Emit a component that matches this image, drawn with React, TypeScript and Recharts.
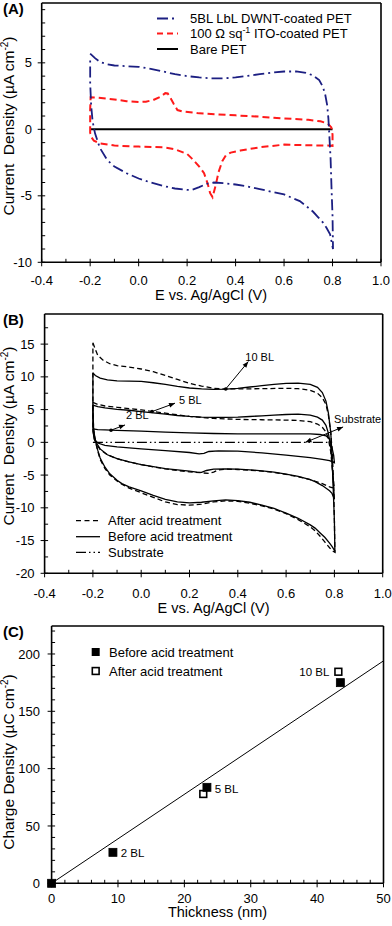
import React from 'react';
import { ComposedChart, Line, Scatter, XAxis, YAxis, ReferenceLine, ReferenceDot } from 'recharts';

const FONT = 'Arial, "Liberation Sans", Helvetica, sans-serif';

// ---------------- shared CV axis ticks ----------------
const cvXMajor = [-0.4, -0.2, 0, 0.2, 0.4, 0.6, 0.8, 1.0];
const cvXAll = [-0.4, -0.3, -0.2, -0.1, 0, 0.1, 0.2, 0.3, 0.4, 0.5, 0.6, 0.7, 0.8, 0.9, 1.0];

// ---------------- Panel A ----------------
const aYMajor = [-10, -5, 0, 5];
const aYAll = [-10, -9, -8, -7, -6, -5, -4, -3, -2, -1, 0, 1, 2, 3, 4, 5, 6, 7, 8, 9];
const aYMax = 9.5;

const dwntA: [number, number][] = [
  [-0.2, 5.7], [-0.18, 5.35], [-0.16, 5.07], [-0.13, 4.9], [-0.1, 4.8], [-0.05, 4.75], [0.0, 4.7],
  [0.05, 4.55], [0.1, 4.35], [0.15, 4.15], [0.2, 4.0], [0.25, 3.9], [0.3, 3.83], [0.35, 3.83], [0.4, 3.9],
  [0.45, 4.02], [0.5, 4.15], [0.55, 4.27], [0.6, 4.35], [0.65, 4.35], [0.69, 4.25], [0.72, 4.05],
  [0.745, 3.7], [0.76, 3.2], [0.77, 2.6], [0.778, 1.8], [0.783, 0.8], [0.787, -0.5], [0.792, -2.2],
  [0.796, -4.5], [0.8, -6.5], [0.802, -9.0],
  [0.79, -7.9], [0.775, -7.4], [0.76, -7.0], [0.74, -6.6], [0.72, -6.2], [0.7, -5.9], [0.665, -5.4],
  [0.6, -4.9], [0.55, -4.7], [0.5, -4.5], [0.45, -4.3], [0.4, -4.15], [0.35, -4.05], [0.31, -4.0],
  [0.28, -4.1], [0.25, -4.35], [0.22, -4.55], [0.2, -4.55], [0.15, -4.45], [0.1, -4.25], [0.05, -4.0],
  [0.0, -3.7], [-0.05, -3.3], [-0.1, -2.8], [-0.13, -2.3], [-0.16, -1.4], [-0.18, -0.3], [-0.19, 0.6],
  [-0.196, 1.8], [-0.2, 3.5], [-0.2, 5.2],
];

const itoA: [number, number][] = [
  [-0.2, -0.3], [-0.2, 1.5], [-0.198, 2.4], [-0.17, 2.38], [-0.1, 2.24], [-0.05, 2.12], [0.0, 2.06],
  [0.03, 2.08], [0.06, 2.2], [0.09, 2.45], [0.11, 2.72], [0.12, 2.7], [0.13, 2.4], [0.145, 1.9],
  [0.16, 1.45], [0.18, 1.35], [0.25, 1.2], [0.4, 1.05], [0.5, 0.95], [0.6, 0.82], [0.7, 0.72],
  [0.75, 0.6], [0.78, 0.45], [0.795, 0.15], [0.8, -0.4], [0.8, -1.25],
  [0.78, -1.22], [0.7, -1.2], [0.6, -1.15], [0.5, -1.35], [0.42, -1.6], [0.38, -1.75], [0.36, -1.95],
  [0.345, -2.4], [0.33, -3.2], [0.318, -4.2], [0.305, -5.1], [0.295, -4.8], [0.285, -4.1],
  [0.27, -3.3], [0.25, -2.8], [0.22, -2.2], [0.2, -1.85], [0.15, -1.5], [0.1, -1.35], [0.0, -1.3],
  [-0.1, -1.22], [-0.16, -1.05], [-0.185, -0.85], [-0.195, -0.6], [-0.2, -0.3],
];

const bareA: [number, number][] = [[-0.2, 0], [0.8, 0]];

// ---------------- Panel B ----------------
const bYMajor = [-20, -15, -10, -5, 0, 5, 10, 15];
const bYAll = [-20, -17.5, -15, -12.5, -10, -7.5, -5, -2.5, 0, 2.5, 5, 7.5, 10, 12.5, 15, 17.5];
const bYMax = 19.6;

const after10: [number, number][] = [
  [-0.2, 15.2], [-0.19, 14.2], [-0.18, 13.3], [-0.16, 12.6], [-0.13, 12.0], [-0.1, 11.7], [-0.05, 11.5],
  [0.0, 11.2], [0.05, 10.8], [0.1, 10.2], [0.15, 9.6], [0.2, 9.0], [0.25, 8.6], [0.3, 8.25], [0.35, 8.15],
  [0.4, 8.15], [0.5, 8.2], [0.6, 8.25], [0.65, 8.2], [0.7, 7.95], [0.73, 7.5], [0.75, 6.8], [0.765, 5.8],
  [0.775, 4.2], [0.785, 1.5], [0.792, -2], [0.797, -7], [0.8, -12], [0.802, -16.8],
  [0.79, -16.5], [0.78, -16.1], [0.76, -15.2], [0.74, -14.3], [0.72, -13.5], [0.7, -12.9], [0.65, -11.8],
  [0.6, -10.9], [0.55, -10.2], [0.5, -9.7], [0.45, -9.3], [0.4, -9.0], [0.35, -8.95], [0.3, -9.1],
  [0.25, -9.45], [0.2, -9.6], [0.15, -9.5], [0.1, -9.1], [0.05, -8.4], [0.0, -7.7], [-0.05, -7.0],
  [-0.08, -6.4], [-0.1, -5.9], [-0.13, -5.0], [-0.15, -4.0], [-0.17, -2.6], [-0.18, -1.3], [-0.19, 0.2],
  [-0.197, 2.0], [-0.2, 5], [-0.2, 15.2],
];

const before10: [number, number][] = [
  [-0.2, 10.6], [-0.19, 10.2], [-0.17, 9.8], [-0.14, 9.55], [-0.1, 9.4], [-0.05, 9.35], [0.0, 9.3],
  [0.05, 9.1], [0.1, 8.85], [0.15, 8.55], [0.2, 8.3], [0.25, 8.15], [0.3, 8.1], [0.35, 8.12], [0.4, 8.25],
  [0.45, 8.45], [0.5, 8.65], [0.55, 8.85], [0.6, 9.0], [0.65, 9.05], [0.7, 8.85], [0.73, 8.4],
  [0.75, 7.6], [0.765, 6.3], [0.775, 4.5], [0.785, 1.5], [0.79, -2], [0.795, -7], [0.8, -12], [0.802, -16.6],
  [0.79, -15.9], [0.78, -15.4], [0.76, -14.5], [0.74, -13.8], [0.72, -13.1], [0.7, -12.6], [0.65, -11.6],
  [0.6, -10.8], [0.55, -10.1], [0.5, -9.6], [0.45, -9.15], [0.4, -8.9], [0.35, -8.8], [0.3, -8.95],
  [0.25, -9.15], [0.2, -9.25], [0.15, -9.1], [0.1, -8.7], [0.05, -8.1], [0.0, -7.4], [-0.05, -6.8],
  [-0.08, -6.3], [-0.1, -5.8], [-0.13, -4.8], [-0.15, -3.8], [-0.17, -2.4], [-0.18, -1.2], [-0.19, 0.3],
  [-0.197, 2.0], [-0.2, 5], [-0.2, 10.6],
];

const after5: [number, number][] = [
  [-0.2, 6.1], [-0.18, 5.8], [-0.15, 5.55], [-0.1, 5.35], [-0.05, 5.15], [0.0, 4.95], [0.05, 4.7],
  [0.1, 4.45], [0.15, 4.2], [0.2, 3.95], [0.3, 3.65], [0.4, 3.5], [0.5, 3.45], [0.6, 3.4], [0.65, 3.35],
  [0.7, 3.15], [0.73, 2.8], [0.75, 2.3], [0.765, 1.6], [0.775, 0.6], [0.785, -1.5], [0.79, -3.5],
  [0.795, -5.5], [0.8, -7.0],
  [0.79, -6.9], [0.78, -6.8], [0.75, -6.3], [0.7, -5.7], [0.65, -5.25], [0.6, -4.9], [0.55, -4.6],
  [0.5, -4.4], [0.45, -4.25], [0.4, -4.15], [0.35, -4.1], [0.32, -4.2], [0.3, -4.55], [0.28, -4.75],
  [0.25, -4.65], [0.2, -4.5], [0.15, -4.3], [0.1, -4.05], [0.05, -3.75], [0.0, -3.4], [-0.05, -3.0],
  [-0.1, -2.5], [-0.14, -1.9], [-0.17, -1.1], [-0.185, -0.3], [-0.195, 0.6], [-0.2, 2.0], [-0.2, 6.1],
];

const before5: [number, number][] = [
  [-0.2, 5.7], [-0.18, 5.45], [-0.15, 5.25], [-0.1, 5.05], [-0.05, 4.9], [0.0, 4.7], [0.05, 4.5],
  [0.1, 4.3], [0.15, 4.1], [0.2, 3.95], [0.25, 3.85], [0.3, 3.8], [0.35, 3.8], [0.4, 3.85], [0.45, 3.95],
  [0.5, 4.05], [0.55, 4.15], [0.6, 4.25], [0.65, 4.3], [0.7, 4.15], [0.73, 3.85], [0.75, 3.4],
  [0.765, 2.6], [0.775, 1.4], [0.785, -0.8], [0.79, -3], [0.795, -5.8], [0.8, -8.7],
  [0.79, -7.8], [0.78, -7.4], [0.75, -6.6], [0.72, -6.0], [0.7, -5.7], [0.65, -5.2], [0.6, -4.85],
  [0.55, -4.55], [0.5, -4.35], [0.45, -4.2], [0.4, -4.1], [0.35, -4.05], [0.3, -4.1], [0.27, -4.3],
  [0.25, -4.6], [0.23, -4.55], [0.2, -4.4], [0.15, -4.2], [0.1, -4.0], [0.05, -3.7], [0.0, -3.4],
  [-0.05, -3.0], [-0.1, -2.5], [-0.14, -1.9], [-0.17, -1.0], [-0.185, -0.1], [-0.195, 0.8], [-0.2, 2.0],
  [-0.2, 5.7],
];

const before2: [number, number][] = [
  [-0.2, 2.05], [-0.18, 1.95], [-0.15, 1.9], [-0.1, 1.82], [0.0, 1.7], [0.1, 1.55], [0.2, 1.45],
  [0.3, 1.35], [0.4, 1.3], [0.5, 1.3], [0.6, 1.3], [0.7, 1.3], [0.74, 1.2], [0.765, 1.0], [0.78, 0.5],
  [0.79, -0.8], [0.797, -2.0], [0.8, -3.1],
  [0.78, -2.8], [0.75, -2.6], [0.7, -2.35], [0.6, -1.95], [0.5, -1.6], [0.4, -1.35], [0.32, -1.3],
  [0.28, -1.4], [0.26, -1.7], [0.24, -1.75], [0.2, -1.55], [0.1, -1.25], [0.0, -1.0], [-0.1, -0.7],
  [-0.15, -0.45], [-0.18, -0.1], [-0.195, 0.5], [-0.2, 2.05],
];

const substrateB: [number, number][] = [[-0.2, 0], [0.8, 0]];

// annotation arrows in panel B (from point on curve -> arrow tip), label offsets in px
const bNotes = [
  { text: '10 BL', from: [0.35, 8.15], to: [0.4435, 12.33], dx: -3, dy: -0.5, both: false, dot: true },
  { text: '5 BL', from: [0.045, 4.7], to: [0.14, 5.98], dx: 4, dy: 0.6, both: false, dot: true },
  { text: '2 BL', from: [-0.125, 1.85], to: [-0.067, 2.66], dx: 1, dy: -6, both: false, dot: true },
  { text: 'Substrate', from: [0.68, 0.0], to: [0.836, 2.35], dx: -9, dy: -4, both: true, dot: false },
];

// ---------------- Panel C ----------------
const cXMajor = [0, 10, 20, 30, 40, 50];
const cXAll = [0, 2, 4, 6, 8, 10, 12, 14, 16, 18, 20, 22, 24, 26, 28, 30, 32, 34, 36, 38, 40, 42, 44, 46, 48, 50];
const cYMajor = [0, 50, 100, 150, 200];
const cYAll = [0, 10, 20, 30, 40, 50, 60, 70, 80, 90, 100, 110, 120, 130, 140, 150, 160, 170, 180, 190, 200, 210, 220];
const cYMax = 224.4;

const beforeC = [
  { x: 0, y: 0 }, { x: 9.24, y: 27 }, { x: 23.4, y: 83.7 }, { x: 43.5, y: 175 },
];
const afterC = [
  { x: 22.85, y: 77.9 }, { x: 43.2, y: 184.5 },
];
const fitC = [{ x: 0, y: 0 }, { x: 50, y: 194 }];
const cNotes = [
  { text: '2 BL', x: 9.24, y: 27, dx: 7.7, dy: 4.2, anchor: 'start' },
  { text: '5 BL', x: 23.4, y: 83.7, dx: 7.7, dy: 5.8, anchor: 'start' },
  { text: '10 BL', x: 43.2, y: 184.5, dx: -9, dy: 4.3, anchor: 'end' },
];

// ---------------- helpers ----------------
const toPts = (a: [number, number][]) => a.map(([x, y]) => ({ x, y }));
const isIn = (arr: number[], v: number) => arr.some((m) => Math.abs(m - v) < 1e-9);

const makeXTick = (majors: number[], fmt: (v: number) => string, labelDy: number) => (props: any) => {
  const { x, y, payload } = props;
  const v = payload.value;
  if (!isIn(majors, v)) return <g />;
  return (
    <g>
      <line x1={x} x2={x} y1={y} y2={y + 4} stroke="#000" strokeWidth={1} />
      <text x={x} y={y + labelDy} textAnchor="middle" fontSize={13} fontFamily={FONT} fill="#000">
        {fmt(v)}
      </text>
    </g>
  );
};

const makeYTick = (majors: number[], gap: number) => (props: any) => {
  const { x, y, payload } = props;
  const v = payload.value;
  if (!isIn(majors, v)) return <g />;
  return (
    <g>
      <line x1={x - 4} x2={x} y1={y} y2={y} stroke="#000" strokeWidth={1} />
      <text x={x - gap} y={y + 4.6} textAnchor="end" fontSize={13} fontFamily={FONT} fill="#000">
        {String(v)}
      </text>
    </g>
  );
};

const arrowShape = (n: any) => (p: any) => {
  const { x1, y1, x2, y2 } = p;
  const ang = Math.atan2(y2 - y1, x2 - x1);
  const head = (x: number, y: number, a: number) => {
    const L = 6;
    const W = 2.4;
    const bx = x - L * Math.cos(a);
    const by = y - L * Math.sin(a);
    return `${x},${y} ${bx - W * Math.sin(a)},${by + W * Math.cos(a)} ${bx + W * Math.sin(a)},${by - W * Math.cos(a)}`;
  };
  return (
    <g>
      <line x1={x1} y1={y1} x2={x2} y2={y2} stroke="#000" strokeWidth={1} />
      <polygon points={head(x2, y2, ang)} fill="#000" />
      {n.both && <polygon points={head(x1, y1, ang + Math.PI)} fill="#000" />}
      {n.dot && <circle cx={x1} cy={y1} r={1.8} fill="#000" />}
      <text x={x2 + n.dx} y={y2 + n.dy} fontSize={11} fontFamily={FONT} fill="#000">
        {n.text}
      </text>
    </g>
  );
};

const filledSquare = (p: any) => (
  <rect x={p.cx - 4} y={p.cy - 4} width={8} height={8} fill="#000" stroke="#000" strokeWidth={0.8} />
);
const openSquare = (p: any) => (
  <rect x={p.cx - 3.4} y={p.cy - 3.4} width={6.8} height={6.8} fill="#fff" stroke="#000" strokeWidth={1.6} />
);

const axisLineStyle = { stroke: '#000', strokeWidth: 1.6 };
const tickLineStyle = { stroke: '#000', strokeWidth: 1 };
const cvFmt = (v: number) => v.toFixed(1);

const NAVY = '#1c1f82';
const RED = '#ff1a1a';

// ---------------- Charts ----------------
const PanelA = () => (
  <ComposedChart width={392} height={310} margin={{ top: 3, right: 11, bottom: 0, left: 0 }}>
    <XAxis xAxisId="x" type="number" dataKey="x" domain={[-0.4, 1.0]} ticks={cvXAll} interval={0}
      height={47.7} tickSize={-3.5} tickMargin={3.5} axisLine={axisLineStyle} tickLine={tickLineStyle}
      tick={makeXTick(cvXMajor, cvFmt, 23)} />
    <YAxis yAxisId="y" type="number" dataKey="y" domain={[-10, aYMax]} ticks={aYAll} interval={0}
      width={41.7} tickSize={-3.5} tickMargin={3.5} axisLine={axisLineStyle} tickLine={tickLineStyle}
      tick={makeYTick(aYMajor, 9.7)} />
    <ReferenceLine xAxisId="x" yAxisId="y" y={aYMax} stroke="#000" strokeWidth={1.6} />
    <ReferenceLine xAxisId="x" yAxisId="y" x={1.0} stroke="#000" strokeWidth={1.6} />
    <Line xAxisId="x" yAxisId="y" data={toPts(bareA)} dataKey="y" type="linear" stroke="#000"
      strokeWidth={2} dot={false} isAnimationActive={false} />
    <Line xAxisId="x" yAxisId="y" data={toPts(itoA)} dataKey="y" type="linear" stroke={RED}
      strokeWidth={2} strokeDasharray="7 4" dot={false} isAnimationActive={false} />
    <Line xAxisId="x" yAxisId="y" data={toPts(dwntA)} dataKey="y" type="linear" stroke={NAVY}
      strokeWidth={1.8} strokeDasharray="11 4 2 4" dot={false} isAnimationActive={false} />
  </ComposedChart>
);

const PanelB = () => (
  <ComposedChart width={392} height={310} margin={{ top: 14, right: 9.3, bottom: 0, left: 0 }}>
    <XAxis xAxisId="x" type="number" dataKey="x" domain={[-0.4, 1.0]} ticks={cvXAll} interval={0}
      height={36.7} tickSize={-3.5} tickMargin={3.5} axisLine={axisLineStyle} tickLine={tickLineStyle}
      tick={makeXTick(cvXMajor, cvFmt, 24.5)} />
    <YAxis yAxisId="y" type="number" dataKey="y" domain={[-20, bYMax]} ticks={bYAll} interval={0}
      width={44.6} tickSize={-3.5} tickMargin={3.5} axisLine={axisLineStyle} tickLine={tickLineStyle}
      tick={makeYTick(bYMajor, 10)} />
    <ReferenceLine xAxisId="x" yAxisId="y" y={bYMax} stroke="#000" strokeWidth={1.6} />
    <ReferenceLine xAxisId="x" yAxisId="y" x={1.0} stroke="#000" strokeWidth={1.6} />
    <Line xAxisId="x" yAxisId="y" data={toPts(substrateB)} dataKey="y" type="linear" stroke="#000"
      strokeWidth={1.3} strokeDasharray="10 3 1.5 3 1.5 3" dot={false} isAnimationActive={false} />
    <Line xAxisId="x" yAxisId="y" data={toPts(before2)} dataKey="y" type="linear" stroke="#000"
      strokeWidth={1.3} dot={false} isAnimationActive={false} />
    <Line xAxisId="x" yAxisId="y" data={toPts(after5)} dataKey="y" type="linear" stroke="#000"
      strokeWidth={1.3} strokeDasharray="5 3" dot={false} isAnimationActive={false} />
    <Line xAxisId="x" yAxisId="y" data={toPts(before5)} dataKey="y" type="linear" stroke="#000"
      strokeWidth={1.3} dot={false} isAnimationActive={false} />
    <Line xAxisId="x" yAxisId="y" data={toPts(after10)} dataKey="y" type="linear" stroke="#000"
      strokeWidth={1.3} strokeDasharray="5 3" dot={false} isAnimationActive={false} />
    <Line xAxisId="x" yAxisId="y" data={toPts(before10)} dataKey="y" type="linear" stroke="#000"
      strokeWidth={1.3} dot={false} isAnimationActive={false} />
    {bNotes.map((n) => (
      <ReferenceLine key={n.text} xAxisId="x" yAxisId="y"
        segment={[{ x: n.from[0], y: n.from[1] }, { x: n.to[0], y: n.to[1] }]}
        stroke="#000" shape={arrowShape(n)} />
    ))}
  </ComposedChart>
);

const PanelC = () => (
  <ComposedChart width={392} height={326} margin={{ top: 26, right: 8.5, bottom: 0, left: 0 }}>
    <XAxis xAxisId="x" type="number" dataKey="x" domain={[0, 50]} ticks={cXAll} interval={0}
      height={42.7} tickSize={-3.5} tickMargin={3.5} axisLine={axisLineStyle} tickLine={tickLineStyle}
      tick={makeXTick(cXMajor, (v) => String(v), 19.5)} />
    <YAxis yAxisId="y" type="number" dataKey="y" domain={[0, cYMax]} ticks={cYAll} interval={0}
      width={51.6} tickSize={-3.5} tickMargin={3.5} axisLine={axisLineStyle} tickLine={tickLineStyle}
      tick={makeYTick(cYMajor, 11.7)} />
    <ReferenceLine xAxisId="x" yAxisId="y" y={cYMax} stroke="#000" strokeWidth={1.6} />
    <ReferenceLine xAxisId="x" yAxisId="y" x={50} stroke="#000" strokeWidth={1.6} />
    <Line xAxisId="x" yAxisId="y" data={fitC} dataKey="y" type="linear" stroke="#000"
      strokeWidth={1} dot={false} isAnimationActive={false} />
    <Scatter xAxisId="x" yAxisId="y" data={afterC} dataKey="y" shape={openSquare} isAnimationActive={false} />
    <Scatter xAxisId="x" yAxisId="y" data={beforeC} dataKey="y" shape={filledSquare} isAnimationActive={false} />
    {cNotes.map((n) => (
      <ReferenceDot key={n.text} xAxisId="x" yAxisId="y" x={n.x} y={n.y} r={0}
        shape={(p: any) => (
          <text x={p.cx + n.dx} y={p.cy + n.dy} textAnchor={n.anchor as any} fontSize={11.5}
            fontFamily={FONT} fill="#000">{n.text}</text>
        )} />
    ))}
  </ComposedChart>
);

// ---------------- overlay text (titles, legends, panel letters) ----------------
const YTitle = ({ x, cy, main, unit }: { x: number; cy: number; main: string; unit: string }) => (
  <text transform={`translate(${x},${cy}) rotate(-90)`} textAnchor="middle" fontSize={15.5}
    fontFamily={FONT} fill="#000" style={{ whiteSpace: 'pre' }}>
    {main}({unit} cm<tspan dy={-6} fontSize={10}>-2</tspan><tspan dy={6}>)</tspan>
  </text>
);

const Overlay = () => (
  <svg width={392} height={926} style={{ position: 'absolute', left: 0, top: 0, pointerEvents: 'none' }}>
    <g fontFamily={FONT} fill="#000">
      {/* panel letters */}
      <text x={3} y={14} fontSize={15} fontWeight="bold">(A)</text>
      <text x={3} y={325} fontSize={15} fontWeight="bold">(B)</text>
      <text x={3} y={636.5} fontSize={15} fontWeight="bold">(C)</text>

      {/* axis titles */}
      <text x={211} y={300} fontSize={14.5} textAnchor="middle">E vs. Ag/AgCl (V)</text>
      <text x={213.6} y={613} fontSize={14.5} textAnchor="middle">E vs. Ag/AgCl (V)</text>
      <text x={217.5} y={917} fontSize={14.5} textAnchor="middle">Thickness (nm)</text>
      <YTitle x={14} cy={126} main={'Current  Density '} unit={'\u00B5A'} />
      <YTitle x={14} cy={436} main={'Current  Density '} unit={'\u00B5A'} />
      <YTitle x={14} cy={762} main={'Charge Density '} unit={'\u00B5C'} />

      {/* legend A */}
      <line x1={157} x2={178} y1={18.5} y2={18.5} stroke={NAVY} strokeWidth={1.8} strokeDasharray="11 4 2 4" />
      <text x={190} y={23.1} fontSize={13}>5BL LbL DWNT-coated PET</text>
      <line x1={157} x2={178} y1={33.5} y2={33.5} stroke={RED} strokeWidth={2} strokeDasharray="6 4" />
      <text x={190} y={38.1} fontSize={13} style={{ whiteSpace: 'pre' }}>
        100 {'\u03A9'} sq<tspan dy={-5} fontSize={9}>-1</tspan><tspan dy={5}> ITO-coated PET</tspan>
      </text>
      <line x1={157} x2={178} y1={49} y2={49} stroke="#000" strokeWidth={2} />
      <text x={190} y={53.6} fontSize={13}>Bare PET</text>

      {/* legend B */}
      <line x1={76} x2={100} y1={520.7} y2={520.7} stroke="#000" strokeWidth={1.3} strokeDasharray="5 3.5" />
      <text x={108} y={525.3} fontSize={13}>After acid treatment</text>
      <line x1={76} x2={100} y1={536.7} y2={536.7} stroke="#000" strokeWidth={1.3} />
      <text x={108} y={541.3} fontSize={13}>Before acid treatment</text>
      <line x1={76} x2={100} y1={552.3} y2={552.3} stroke="#000" strokeWidth={1.3} strokeDasharray="10 3 1.5 3 1.5 3" />
      <text x={108} y={556.9} fontSize={13}>Substrate</text>

      {/* legend C */}
      <rect x={91.7} y={648} width={8} height={8} fill="#000" />
      <text x={109} y={656.6} fontSize={13}>Before acid treatment</text>
      <rect x={92.3} y={667.6} width={6.8} height={6.8} fill="#fff" stroke="#000" strokeWidth={1.6} />
      <text x={109} y={675.6} fontSize={13}>After acid treatment</text>
    </g>
  </svg>
);

export default function App() {
  return (
    <div style={{ position: 'absolute', left: 0, top: 0, width: 392, height: 926, background: '#fff', fontFamily: FONT }}>
      <div style={{ position: 'absolute', left: 0, top: 0 }}><PanelA /></div>
      <div style={{ position: 'absolute', left: 0, top: 300 }}><PanelB /></div>
      <div style={{ position: 'absolute', left: 0, top: 600 }}><PanelC /></div>
      <Overlay />
    </div>
  );
}
